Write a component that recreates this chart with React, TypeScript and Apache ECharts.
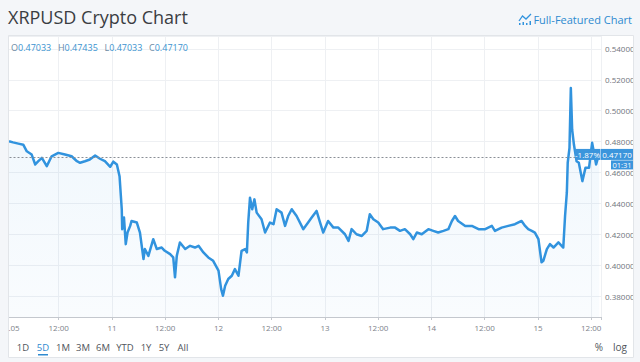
import React, { useEffect, useRef } from 'react';
import * as echarts from 'echarts';

// time in hours since day 10, 00:00
const hours = [
  0.8, 1.7, 2.9, 4.0, 4.8, 5.9, 6.7, 7.4, 8.2, 9.3,
  10.4, 11.9, 13.4, 14.9, 16.1, 16.8, 17.9, 19.0, 20.2, 21.3,
  22.4, 23.6, 24.3, 25.1, 25.7, 26.0, 26.2, 26.3, 26.7, 27.1,
  27.5, 28.1, 28.4, 29.6, 30.3, 31.1, 31.4, 32.2, 33.3, 34.1,
  35.2, 35.9, 37.1, 37.8, 38.2, 38.6, 39.3, 40.5, 41.6, 42.7,
  43.5, 44.6, 45.7, 46.8, 48.0, 48.6, 49.0, 49.5, 50.2, 51.0,
  51.7, 52.5, 53.2, 54.0, 54.4, 54.7, 55.1, 55.6, 56.1, 56.6,
  57.7, 58.5, 59.6, 60.4, 61.1, 62.2, 63.0, 63.7, 64.5, 65.6,
  67.1, 68.2, 69.0, 70.1, 70.9, 71.6, 72.7, 73.9, 75.0, 76.5,
  77.3, 78.0, 79.1, 80.3, 81.4, 82.1, 82.9, 84.0, 85.1, 86.7,
  87.8, 88.9, 90.0, 91.2, 91.9, 92.7, 93.8, 95.3, 96.4, 97.5,
  98.7, 99.8, 100.6, 101.3, 102.0, 103.6, 105.1, 106.6, 108.1, 109.6,
  110.3, 111.8, 113.3, 114.8, 116.3, 117.1, 117.8, 118.6, 119.3, 120.1,
  120.8, 121.2, 122.0, 122.7, 123.5, 124.6, 125.7, 126.1, 126.5, 126.7,
  127.1, 127.4, 127.7, 128.1, 128.7, 129.2, 130.0, 130.7, 131.5, 132.2,
  133.1, 133.5, 133.8,
];

const prices = [
  0.4802, 0.4795, 0.4787, 0.4780, 0.4737, 0.4716, 0.4652, 0.4673, 0.4695, 0.4641,
  0.4705, 0.4727, 0.4716, 0.4705, 0.4673, 0.4663, 0.4673, 0.4684, 0.4710, 0.4689,
  0.4673, 0.4637, 0.4670, 0.4652, 0.4576, 0.4447, 0.4362, 0.4233, 0.4308, 0.4136,
  0.4211, 0.4254, 0.4286, 0.4276, 0.4211, 0.4039, 0.4104, 0.4060, 0.4168, 0.4104,
  0.4114, 0.4093, 0.4071, 0.4050, 0.3921, 0.4060, 0.4147, 0.4104, 0.4125, 0.4114,
  0.4125, 0.4082, 0.4050, 0.4028, 0.3964, 0.3845, 0.3802, 0.3867, 0.3910, 0.3931,
  0.3974, 0.3931, 0.4093, 0.4104, 0.4082, 0.4276, 0.4437, 0.4362, 0.4426, 0.4340,
  0.4297, 0.4211, 0.4276, 0.4265, 0.4362, 0.4340, 0.4254, 0.4318, 0.4362, 0.4318,
  0.4233, 0.4276, 0.4308, 0.4351, 0.4276, 0.4211, 0.4286, 0.4243, 0.4243, 0.4200,
  0.4157, 0.4233, 0.4200, 0.4189, 0.4222, 0.4329, 0.4297, 0.4276, 0.4233, 0.4243,
  0.4243, 0.4222, 0.4233, 0.4200, 0.4168, 0.4211, 0.4200, 0.4233, 0.4222, 0.4211,
  0.4222, 0.4233, 0.4286, 0.4318, 0.4286, 0.4254, 0.4254, 0.4233, 0.4233, 0.4254,
  0.4222, 0.4243, 0.4254, 0.4265, 0.4286, 0.4254, 0.4233, 0.4222, 0.4211, 0.4168,
  0.4018, 0.4028, 0.4104, 0.4136, 0.4114, 0.4147, 0.4114, 0.4318, 0.4469, 0.4663,
  0.4760, 0.5147, 0.4877, 0.4781, 0.4673, 0.4663, 0.4544, 0.4630, 0.4630, 0.4792,
  0.4652, 0.4695, 0.4717,
];

const firstDay = 10;
const cutLabel = '.05';
const ohlcKeys = ['O', 'H', 'L', 'C'];
const ohlcValues = ['0.47033', '0.47435', '0.47033', '0.47170'];
const lastPrice = 0.4717;
const lastPriceText = '0.47170';
const changeText = '-1.87%';
const countdownText = '01:31';
const ranges = ['1D', '5D', '1M', '3M', '6M', 'YTD', '1Y', '5Y', 'All'];
const activeRange = '5D';
const rightButtons = ['%', 'log'];

const BG = '#f4f6f9';
const BLUE = '#3193de';
const FONT = '"Open Sans", "DejaVu Sans", sans-serif';

export default function App() {
  const ref = useRef<HTMLDivElement>(null);

  useEffect(() => {
    if (!ref.current) return;
    const chart = echarts.init(ref.current, undefined, { renderer: 'svg' });
    const data = hours.map((h, i) => [h, prices[i]]);
    chart.setOption({
      animation: false,
      backgroundColor: '#ffffff',
      grid: { left: 5.5, right: 39, top: 36, bottom: 45, containLabel: false },
      xAxis: {
        type: 'value',
        min: 0,
        max: 134.2,
        interval: 12,
        axisLine: { show: true, lineStyle: { color: '#c4c8ce', width: 1 } },
        axisTick: { show: true, length: 3, lineStyle: { color: '#c4c8ce' } },
        axisLabel: {
          color: '#7d828a',
          fontSize: 8,
          fontFamily: FONT,
          margin: 6,
          formatter: (v: number) => {
            if (v <= 0) return '';
            if (Math.abs(v % 24) < 1e-6) return String(firstDay + v / 24);
            if (Math.abs(v % 12) < 1e-6) return '12:00';
            return '';
          },
        },
        splitLine: { show: true, lineStyle: { color: '#eef0f3', width: 1 } },
      },
      yAxis: {
        type: 'value',
        position: 'right',
        min: 0.3664,
        max: 0.5484,
        splitNumber: 9,
        axisLine: { show: true, lineStyle: { color: '#c4c8ce', width: 1 } },
        axisTick: { show: true, length: 3, lineStyle: { color: '#c4c8ce' } },
        axisLabel: {
          color: '#6f747c',
          fontSize: 8,
          fontFamily: FONT,
          margin: 4,
          formatter: (v: number) => {
            const k = v / 0.02;
            return Math.abs(k - Math.round(k)) < 1e-6 ? v.toFixed(5) : '';
          },
        },
        splitLine: { show: true, lineStyle: { color: '#eef0f3', width: 1 } },
      },
      series: [
        {
          type: 'line',
          data,
          showSymbol: false,
          symbol: 'none',
          lineStyle: { color: BLUE, width: 2.5, join: 'round' },
          areaStyle: {
            color: new echarts.graphic.LinearGradient(0, 0, 0, 1, [
              { offset: 0, color: 'rgba(49,147,222,0.11)' },
              { offset: 1, color: 'rgba(49,147,222,0.04)' },
            ]),
          },
          markLine: {
            silent: true,
            symbol: 'none',
            label: { show: false },
            lineStyle: { color: '#8a8f96', type: [2, 2], width: 1 },
            data: [{ yAxis: lastPrice }],
          },
        },
      ],
    });

    const y0 = chart.convertToPixel({ yAxisIndex: 0 }, lastPrice) as number;
    const axisX = chart.convertToPixel({ xAxisIndex: 0 }, 134.2) as number;

    const rangeX = [23, 43, 63, 83, 103, 125, 146, 164, 183];
    const rightX = [599, 620];
    const btnY = 347;

    const ohlcRich: string[] = [];
    ohlcKeys.forEach((k, i) => {
      ohlcRich.push(`{l|${k}}{v|${ohlcValues[i]}}`);
    });

    const graphic: any[] = [
      { type: 'rect', z: 100, shape: { x: 0, y: 0, width: 640, height: 36 }, style: { fill: BG } },
      { type: 'rect', z: 100, shape: { x: 0, y: 36, width: 8, height: 326 }, style: { fill: BG } },
      { type: 'rect', z: 100, shape: { x: 634, y: 36, width: 6, height: 326 }, style: { fill: BG } },
      { type: 'rect', z: 100, shape: { x: 0, y: 358, width: 640, height: 4 }, style: { fill: BG } },
      {
        type: 'rect', z: 101,
        shape: { x: 8.5, y: 35.5, width: 625, height: 322 },
        style: { fill: 'none', stroke: '#e2e5e9', lineWidth: 1 },
      },
      {
        type: 'text', z: 102, x: 8, y: 17,
        style: { text: 'XRPUSD Crypto Chart', font: `18px ${FONT}`, fill: '#3a3d42', verticalAlign: 'middle', align: 'left' },
      },
      {
        type: 'polyline', z: 102,
        shape: { points: [[519, 21], [522.5, 16], [526, 19], [531, 14]] },
        style: { stroke: BLUE, lineWidth: 1.3, fill: 'none' },
      },
      { type: 'rect', z: 102, shape: { x: 519, y: 23, width: 1.5, height: 2 }, style: { fill: BLUE } },
      { type: 'rect', z: 102, shape: { x: 522.5, y: 22, width: 1.5, height: 3 }, style: { fill: BLUE } },
      { type: 'rect', z: 102, shape: { x: 526, y: 23, width: 1.5, height: 2 }, style: { fill: BLUE } },
      { type: 'rect', z: 102, shape: { x: 529.5, y: 21, width: 1.5, height: 4 }, style: { fill: BLUE } },
      {
        type: 'text', z: 102, x: 632, y: 19,
        style: { text: 'Full-Featured Chart', font: `11px ${FONT}`, fill: '#2e8ad0', verticalAlign: 'middle', align: 'right' },
      },
      {
        type: 'text', z: 102, x: 11, y: 47,
        style: {
          text: ohlcRich.join('  '),
          verticalAlign: 'middle',
          align: 'left',
          rich: {
            l: { fontSize: 9, fontFamily: FONT, fill: '#6c8aa3' },
            v: { fontSize: 9, fontFamily: FONT, fill: '#3b93cf' },
          },
        },
      },
      {
        type: 'text', z: 102, x: 14, y: 327,
        style: { text: cutLabel, font: `8px ${FONT}`, fill: '#7d828a', verticalAlign: 'middle', align: 'center' },
      },
      { type: 'rect', z: 103, shape: { x: 575, y: y0 - 5.5, width: 25.5, height: 11 }, style: { fill: '#3b95dc' } },
      {
        type: 'text', z: 104, x: 587.5, y: y0,
        style: { text: changeText, font: `8px ${FONT}`, fill: '#ffffff', verticalAlign: 'middle', align: 'center' },
      },
      { type: 'rect', z: 103, shape: { x: axisX, y: y0 - 5.5, width: 633 - axisX, height: 11 }, style: { fill: '#3b95dc' } },
      {
        type: 'text', z: 104, x: (axisX + 633) / 2, y: y0,
        style: { text: lastPriceText, font: `8px ${FONT}`, fill: '#ffffff', verticalAlign: 'middle', align: 'center' },
      },
      { type: 'rect', z: 103, shape: { x: 611, y: y0 + 6, width: 22, height: 9 }, style: { fill: '#3b95dc' } },
      {
        type: 'text', z: 104, x: 622, y: y0 + 10.5,
        style: { text: countdownText, font: `7.5px ${FONT}`, fill: '#ffffff', verticalAlign: 'middle', align: 'center' },
      },
    ];

    ranges.forEach((r, i) => {
      const active = r === activeRange;
      graphic.push({
        type: 'text', z: 102, x: rangeX[i], y: btnY,
        style: { text: r, font: `9.5px ${FONT}`, fill: active ? '#2e8ad0' : '#50555c', verticalAlign: 'middle', align: 'center' },
      });
      if (active) {
        graphic.push({
          type: 'rect', z: 102, shape: { x: rangeX[i] - 5, y: btnY + 7, width: 10, height: 1.5 },
          style: { fill: '#2e8ad0' },
        });
      }
    });
    rightButtons.forEach((r, i) => {
      graphic.push({
        type: 'text', z: 102, x: rightX[i], y: btnY,
        style: { text: r, font: `10px ${FONT}`, fill: '#50555c', verticalAlign: 'middle', align: 'center' },
      });
    });

    chart.setOption({ graphic });

    return () => chart.dispose();
  }, []);

  return (
    <div
      ref={ref}
      style={{ position: 'fixed', left: 0, top: 0, width: 640, height: 362 }}
    />
  );
}
